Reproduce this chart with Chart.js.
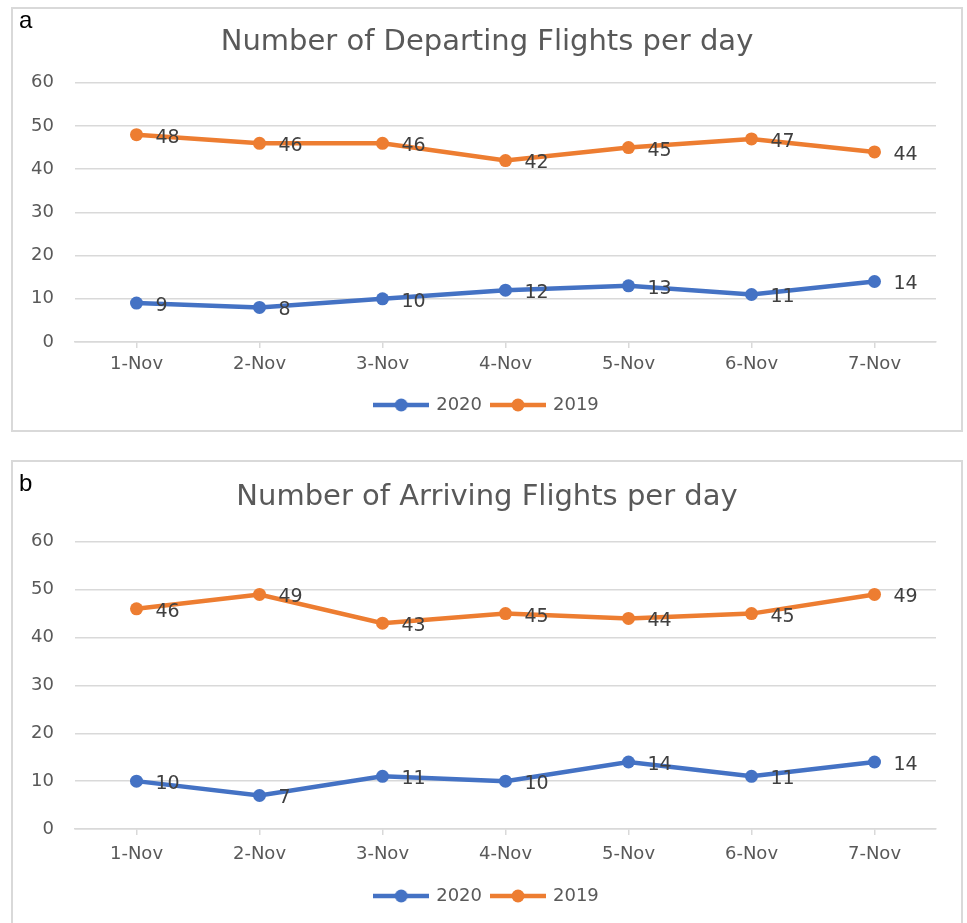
<!DOCTYPE html>
<html>
<head>
<meta charset="utf-8">
<script src="https://cdn.jsdelivr.net/npm/chart.js@4.4.0/dist/chart.umd.min.js"></script>
<style>
  body { margin: 0; width: 967px; height: 923px; overflow: hidden; background: #fff; position: relative; }
  .panel { position: absolute; left: 11px; width: 948px; border: 2px solid #d9d9d9; background: #fff; }
  .panel canvas { position: absolute; left: 0; top: 0; }
  .tag { position: absolute; left: 6px; font: 24px/24px "Liberation Sans", Arial, sans-serif; color: #000; }
</style>
</head>
<body>
<div class="panel" style="top:7px;height:421px">
  <canvas id="chartA" width="948" height="421"></canvas>
  <div class="tag" style="top:-1px">a</div>
</div>
<div class="panel" style="top:460px;height:461px">
  <canvas id="chartB" width="948" height="461"></canvas>
  <div class="tag" style="top:9px">b</div>
</div>
<script>
const days = ['1-Nov', '2-Nov', '3-Nov', '4-Nov', '5-Nov', '6-Nov', '7-Nov'];
const departing2020 = [9, 8, 10, 12, 13, 11, 14];
const departing2019 = [48, 46, 46, 42, 45, 47, 44];
const arriving2020 = [10, 7, 11, 10, 14, 11, 14];
const arriving2019 = [46, 49, 43, 45, 44, 45, 49];
const seriesNames = ['2020', '2019'];
const yMin = 0, yMax = 60, yStep = 10;

const BLUE = '#4472c4';
const ORANGE = '#ed7d31';
const FONT = '"DejaVu Sans", sans-serif';
const GRID = '#d9d9d9';

// line with a dot, like the Excel legend marker
function legendMark(color) {
    var c = document.createElement('canvas');
    c.width = 56; c.height = 14;
    var g = c.getContext('2d');
    g.strokeStyle = color; g.lineWidth = 4.5;
    g.beginPath(); g.moveTo(0, 7); g.lineTo(56, 7); g.stroke();
    g.fillStyle = color;
    g.beginPath(); g.arc(28, 7, 6.5, 0, Math.PI * 2); g.fill();
    return c;
}

// value written to the right of each point
const pointLabels = {
    id: 'pointLabels',
    afterDatasetsDraw(chart) {
        var ctx = chart.ctx;
        ctx.save();
        ctx.font = '19px ' + FONT;
        ctx.fillStyle = '#404040';
        ctx.textAlign = 'left';
        ctx.textBaseline = 'middle';
        chart.data.datasets.forEach(function (ds, i) {
            chart.getDatasetMeta(i).data.forEach(function (pt, j) {
                ctx.fillText(ds.data[j], pt.x + 19, pt.y + 3);
            });
        });
        ctx.restore();
    }
};

function flightChart(element_id, title, data2020, data2019, lay) {
    var ctx = document.getElementById(element_id).getContext('2d');
    var marks = [legendMark(BLUE), legendMark(ORANGE)];
    return new Chart(ctx, {
        type: 'line',
        data: {
            labels: days,
            datasets: [{
                label: seriesNames[0],
                data: data2020,
                borderColor: BLUE,
                backgroundColor: BLUE,
                borderWidth: 4.5,
                pointRadius: 6.5,
                pointBorderWidth: 0,
                pointBackgroundColor: BLUE
            }, {
                label: seriesNames[1],
                data: data2019,
                borderColor: ORANGE,
                backgroundColor: ORANGE,
                borderWidth: 4.5,
                pointRadius: 6.5,
                pointBorderWidth: 0,
                pointBackgroundColor: ORANGE
            }]
        },
        options: {
            responsive: false,
            animation: false,
            layout: { padding: { left: 0, right: 0, top: 0, bottom: lay.padBottom } },
            plugins: {
                title: {
                    display: true,
                    text: title,
                    color: '#595959',
                    font: { family: FONT, size: 29, weight: 'normal' },
                    padding: { top: lay.titleTop, bottom: lay.titleBottom }
                },
                legend: {
                    position: 'bottom',
                    labels: {
                        usePointStyle: true,
                        pointStyleWidth: 52,
                        color: '#595959',
                        font: { family: FONT, size: 18 },
                        padding: 10,
                        generateLabels: function (chart) {
                            var items = Chart.defaults.plugins.legend.labels.generateLabels(chart);
                            items.forEach(function (it) { it.pointStyle = marks[it.datasetIndex]; });
                            return items;
                        }
                    }
                },
                tooltip: { enabled: false }
            },
            scales: {
                x: {
                    offset: true,
                    grid: { display: true, drawOnChartArea: false, drawTicks: true, tickLength: 6, color: GRID, lineWidth: 1.5 },
                    border: { display: true, color: GRID, width: 1.5 },
                    ticks: { color: '#595959', font: { family: FONT, size: 18 }, padding: lay.xPad },
                    afterFit: function (s) { s.height = lay.xHeight; }
                },
                y: {
                    min: yMin,
                    max: yMax,
                    ticks: { stepSize: yStep, color: '#595959', font: { family: FONT, size: 18 }, padding: 21 },
                    grid: { color: GRID, lineWidth: 1.5, drawTicks: false },
                    border: { display: false },
                    afterFit: function (s) { s.width = 62; }
                },
                y2: {
                    position: 'right',
                    display: true,
                    ticks: { display: false },
                    grid: { display: false },
                    border: { display: false },
                    afterFit: function (s) { s.width = 25; }
                }
            }
        },
        plugins: [pointLabels]
    });
}

flightChart('chartA', 'Number of Departing Flights per day', departing2020, departing2019,
    { titleTop: 16, titleBottom: 23, padBottom: 6, xPad: 6, xHeight: 44 });
flightChart('chartB', 'Number of Arriving Flights per day', arriving2020, arriving2019,
    { titleTop: 18, titleBottom: 27, padBottom: 8, xPad: 9, xHeight: 48 });
</script>
</body>
</html>
